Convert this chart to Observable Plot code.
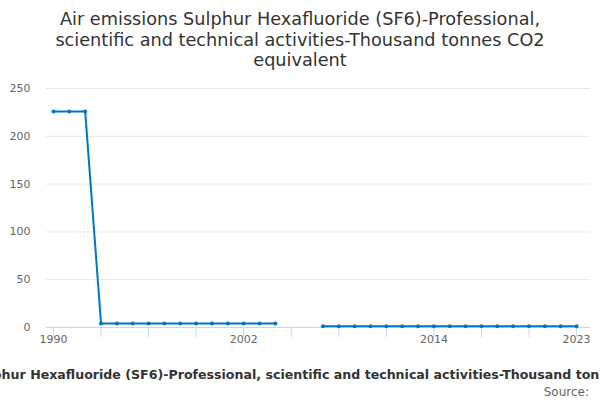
<!DOCTYPE html>
<html>
<head>
<meta charset="utf-8">
<script src="https://cdn.jsdelivr.net/npm/d3@7"></script>
<script src="https://cdn.jsdelivr.net/npm/@observablehq/plot@0.6"></script>
<style>
  html, body { margin: 0; padding: 0; background: #fff; }
  body { width: 600px; height: 400px; position: relative; overflow: hidden; font-family: "DejaVu Sans", sans-serif; }
  #title { position: absolute; top: 9px; left: 0; width: 600px; text-align: center; font-size: 17.7px; line-height: 20.5px; color: #333; }
  #chart { position: absolute; top: 80px; left: 0; }
  #caption { position: absolute; top: 367px; left: -196px; width: 1000px; text-align: center; font-size: 12.6px; font-weight: bold; color: #333; white-space: nowrap; }
  #source { position: absolute; top: 385px; right: 11px; font-size: 12px; color: #666; }
</style>
</head>
<body>
<div id="title">Air emissions Sulphur Hexafluoride (SF6)-Professional,<br>scientific and technical activities-Thousand tonnes CO2<br>equivalent</div>
<div id="chart"></div>
<div id="caption">Air emissions Sulphur Hexafluoride (SF6)-Professional, scientific and technical activities-Thousand tonnes CO2 equivalent</div>
<div id="source">Source:</div>
<script>
const years = d3.range(1990, 2024);
const values = [226, 226, 226,
  4.3, 4.3, 4.3, 4.3, 4.3, 4.3, 4.3, 4.3, 4.3, 4.3, 4.3, 4.3,
  null, null,
  1.4, 1.4, 1.4, 1.4, 1.4, 1.4, 1.4, 1.4, 1.4, 1.4, 1.4, 1.4, 1.4, 1.4, 1.4, 1.4, 1.4];
const yTicks = [0, 50, 100, 150, 200, 250];
const xTickMarks = [1990, 1993, 1996, 1999, 2002, 2005, 2008, 2011, 2014, 2017, 2020, 2023];
const xTickLabels = [1990, 2002, 2014, 2023];

const data = years.map((y, i) => ({year: y, value: values[i]}));
const color = "#0077c0";

const chart = Plot.plot({
  width: 600,
  height: 270,
  marginTop: 8,
  marginBottom: 23,
  marginLeft: 46,
  marginRight: 10,
  style: {fontFamily: "DejaVu Sans, sans-serif", fontSize: "11px", color: "#666", background: "#fff"},
  x: {type: "linear", domain: [1989.56, 2023.88]},
  y: {domain: [0, 250]},
  marks: [
    Plot.gridY(yTicks, {stroke: "#e6e6e6", strokeOpacity: 1}),
    Plot.axisY(yTicks, {tickSize: 0, tickPadding: 16, label: null, fill: "#666", fontSize: 11}),
    Plot.ruleY([0], {stroke: "#ccd6eb"}),
    Plot.axisX(xTickMarks, {tickSize: 10, stroke: "#ccd6eb", strokeOpacity: 1, tickFormat: () => "", label: null}),
    Plot.axisX(xTickLabels, {tickSize: 0, tickPadding: 8, tickFormat: d => String(d), label: null, fill: "#666", fontSize: 11}),
    Plot.line(data, {x: "year", y: "value", stroke: color, strokeWidth: 2}),
    Plot.dot(data.filter(d => d.value != null), {x: "year", y: "value", r: 2, fill: color, stroke: null})
  ]
});
document.getElementById("chart").appendChild(chart);
</script>
</body>
</html>
